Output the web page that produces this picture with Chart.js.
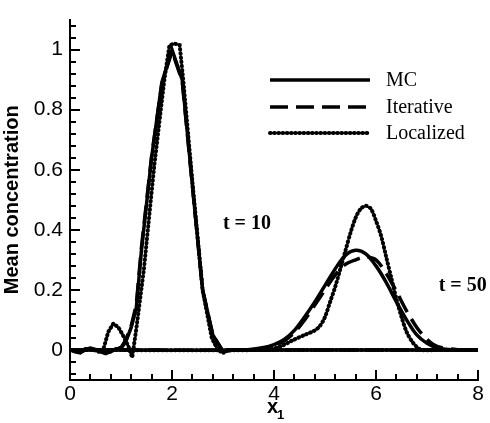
<!DOCTYPE html>
<html>
<head>
<meta charset="utf-8">
<script src="https://cdn.jsdelivr.net/npm/chart.js@4.4.1/dist/chart.umd.min.js"></script>
<style>
  html, body { margin: 0; padding: 0; background: #fff; }
  #wrap { width: 490px; height: 423px; }
</style>
</head>
<body>
<div id="wrap"><canvas id="grafico" width="490" height="423"></canvas></div>
<script>
// t = 10
const mcX10 = [0, 0.1, 0.2, 0.3, 0.4, 0.5, 0.6, 0.7, 0.8, 0.9, 1.0, 1.1, 1.2, 1.3, 1.4, 1.6, 1.8, 2.0, 2.2, 2.4, 2.6, 2.8, 3.0, 3.2, 4.0, 8.0];
const mcY10 = [0, -0.006, -0.01, 0.002, 0.006, 0.002, -0.004, -0.01, -0.006, 0.004, 0.005, 0.03, 0.075, 0.14, 0.33, 0.64, 0.89, 1.0, 0.9, 0.55, 0.2, 0.05, -0.006, 0, 0, 0];
const itY10 = [0, -0.004, -0.008, 0.004, 0.004, 0.0, -0.006, -0.012, -0.004, 0.006, 0.008, 0.035, 0.08, 0.15, 0.34, 0.645, 0.885, 0.995, 0.895, 0.545, 0.2, 0.05, -0.004, 0, 0, 0];
const locX10 = [0, 0.2, 0.4, 0.6, 0.65, 0.75, 0.85, 0.95, 1.05, 1.15, 1.22, 1.3, 1.45, 1.65, 1.85, 1.95, 2.05, 2.15, 2.22, 2.4, 2.6, 2.78, 2.9, 3.0, 3.1, 3.3, 4.0, 8.0];
const locY10 = [0, -0.006, 0.004, -0.008, 0.0, 0.06, 0.088, 0.075, 0.045, 0.01, -0.025, 0.07, 0.27, 0.61, 0.9, 1.015, 1.02, 1.015, 0.9, 0.56, 0.2, 0.04, 0.0, -0.01, 0.0, 0, 0, 0];

// t = 50
const mcX50 = [0, 3.4, 3.8, 4.0, 4.2, 4.4, 4.6, 4.8, 5.0, 5.2, 5.4, 5.6, 5.8, 6.0, 6.2, 6.4, 6.6, 6.8, 7.0, 7.2, 7.6, 8.0];
const mcY50 = [0, 0, 0.008, 0.018, 0.035, 0.065, 0.11, 0.16, 0.215, 0.27, 0.315, 0.332, 0.32, 0.28, 0.225, 0.16, 0.1, 0.05, 0.022, 0.007, 0, 0];
const itY50 = [0, 0, 0.005, 0.014, 0.03, 0.058, 0.1, 0.15, 0.2, 0.25, 0.285, 0.3, 0.31, 0.3, 0.255, 0.195, 0.13, 0.075, 0.035, 0.012, 0.001, 0];
const locX50 = [0, 3.8, 4.1, 4.4, 4.6, 4.8, 4.9, 5.0, 5.1, 5.2, 5.3, 5.4, 5.5, 5.6, 5.7, 5.8, 5.9, 6.0, 6.1, 6.2, 6.3, 6.4, 6.5, 6.6, 6.7, 6.8, 6.9, 7.2, 8.0];
const locY50 = [0, 0, 0.01, 0.035, 0.05, 0.065, 0.08, 0.11, 0.16, 0.21, 0.27, 0.33, 0.39, 0.44, 0.47, 0.48, 0.47, 0.43, 0.38, 0.31, 0.24, 0.17, 0.11, 0.06, 0.03, 0.01, 0, 0, 0];

const seriesNames = ['MC', 'Iterative', 'Localized'];
const xTicks = [0, 2, 4, 6, 8];
const yTicks = [0, 0.2, 0.4, 0.6, 0.8, 1];
const annoText = ['t = 10', 't = 50'];
const annoX = [3.47, 7.7];
const annoY = [0.42, 0.215];

const pts = (xs, ys) => xs.map((x, i) => ({ x: x, y: ys[i] }));

const styles = [
    { borderDash: [], borderCapStyle: 'butt', width: 3.5 },
    { borderDash: [18, 8], borderCapStyle: 'butt', width: 3.5 },
    { borderDash: [0.6, 3.6], borderCapStyle: 'round', width: 4 }
];

function serie(label, data, k, tension) {
    return {
        label: label,
        data: data,
        borderColor: '#000',
        borderWidth: styles[k].width,
        borderDash: styles[k].borderDash,
        borderCapStyle: styles[k].borderCapStyle,
        pointRadius: 0,
        fill: false,
        tension: tension
    };
}

// ticks pointing into the plot, with minor ticks
const ticksDentro = {
    id: 'ticksDentro',
    afterDraw(chart) {
        const c = chart.ctx, a = chart.chartArea;
        const xs = chart.scales.x, ys = chart.scales.y;
        c.save();
        c.strokeStyle = '#000';
        c.lineWidth = 2;
        c.beginPath();
        for (let i = 0; i <= 20; i++) {
            const px = Math.round(xs.getPixelForValue(i * 0.4));
            const len = (i % 5 === 0) ? 10 : 6;
            c.moveTo(px, a.bottom);
            c.lineTo(px, a.bottom - len);
        }
        for (let i = -2; i <= 27; i++) {
            const py = Math.round(ys.getPixelForValue(i * 0.04));
            const len = (i % 5 === 0) ? 10 : 6;
            c.moveTo(a.left, py);
            c.lineTo(a.left + len, py);
        }
        c.stroke();
        c.restore();
    }
};

// legend, the two labels and the x title with its subscript
const leyenda = {
    id: 'leyenda',
    afterDraw(chart) {
        const c = chart.ctx, a = chart.chartArea;
        const xs = chart.scales.x, ys = chart.scales.y;
        c.save();
        c.fillStyle = '#000';
        c.strokeStyle = '#000';
        c.font = '20px "Liberation Serif", "Times New Roman", serif';
        c.textBaseline = 'middle';
        const rows = [80, 107, 133];
        for (let k = 0; k < 3; k++) {
            c.lineWidth = styles[k].width;
            c.setLineDash(styles[k].borderDash);
            c.lineCap = styles[k].borderCapStyle;
            c.beginPath();
            c.moveTo(270, rows[k]);
            c.lineTo(370, rows[k]);
            c.stroke();
            c.setLineDash([]);
            c.fillText(seriesNames[k], 386, rows[k] + 1);
        }
        c.font = 'bold 20px "Liberation Serif", "Times New Roman", serif';
        c.textAlign = 'center';
        for (let i = 0; i < annoText.length; i++) {
            c.fillText(annoText[i], xs.getPixelForValue(annoX[i]), ys.getPixelForValue(annoY[i]));
        }
        // x1
        const cx = (a.left + a.right) / 2;
        c.textAlign = 'left';
        c.textBaseline = 'alphabetic';
        c.font = 'bold 20px "Liberation Sans", Arial, sans-serif';
        c.fillText('x', cx - 7, 413);
        c.font = 'bold 13px "Liberation Sans", Arial, sans-serif';
        c.fillText('1', cx + 3, 419);
        c.restore();
    }
};

const fmt = (v) => String(+Number(v).toFixed(2));

const ctx = document.getElementById('grafico').getContext('2d');
const chart = new Chart(ctx, {
    type: 'line',
    data: {
        datasets: [
            serie('MC', pts(mcX10, mcY10), 0, 0),
            serie('Iterative', pts(mcX10, itY10), 1, 0),
            serie('Localized', pts(locX10, locY10), 2, 0),
            serie('MC', pts(mcX50, mcY50), 0, 0.3),
            serie('Iterative', pts(mcX50, itY50), 1, 0.3),
            serie('Localized', pts(locX50, locY50), 2, 0.3)
        ]
    },
    options: {
        responsive: false,
        animation: false,
        layout: { padding: { top: 7, right: 12, left: 0, bottom: 0 } },
        plugins: { legend: { display: false }, tooltip: { enabled: false } },
        scales: {
            x: {
                type: 'linear',
                min: 0,
                max: 8,
                afterBuildTicks: (s) => { s.ticks = xTicks.map(v => ({ value: v })); },
                afterFit: (s) => { s.height = 43; },
                grid: { display: true, drawOnChartArea: false, drawTicks: false },
                border: { display: true, color: '#000', width: 2 },
                ticks: {
                    color: '#000',
                    padding: 2,
                    callback: fmt,
                    font: { family: '"Liberation Sans", Arial, sans-serif', size: 21 }
                }
            },
            y: {
                min: -0.1,
                max: 1.1,
                afterBuildTicks: (s) => { s.ticks = yTicks.map(v => ({ value: v })); },
                afterFit: (s) => { s.width = 70; },
                grid: { display: true, drawOnChartArea: false, drawTicks: false },
                border: { display: true, color: '#000', width: 2 },
                ticks: {
                    color: '#000',
                    padding: 7,
                    callback: fmt,
                    font: { family: '"Liberation Sans", Arial, sans-serif', size: 21 }
                },
                title: {
                    display: true,
                    text: 'Mean concentration',
                    color: '#000',
                    padding: 0,
                    font: { family: '"Liberation Sans", Arial, sans-serif', size: 20, weight: 'bold' }
                }
            }
        }
    },
    plugins: [ticksDentro, leyenda]
});
</script>
</body>
</html>
